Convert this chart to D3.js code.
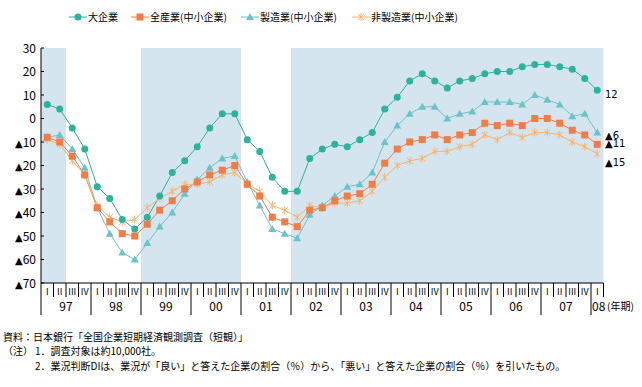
<!DOCTYPE html>
<html>
<head>
<meta charset="utf-8">
<script src="https://cdn.jsdelivr.net/npm/d3@7"></script>
<style>
  body { margin: 0; background: #fff; }
  svg text { font-family: "Noto Sans CJK JP", "Noto Sans", sans-serif; fill: #000; }
  svg tspan.tri { font-family: "DejaVu Sans", sans-serif; }
  svg text.endlab { font-family: "DejaVu Sans", sans-serif; }
</style>
</head>
<body>
<div id="wrapper"></div>
<script>
// years and quarters (97 I .. 08 I)
var years = ["97","98","99","00","01","02","03","04","05","06","07","08"];
var qNames = ["I","II","III","IV"];
var quarters = [];
years.forEach(function(y){
  qNames.forEach(function(q, i){
    if (y !== "08" || i === 0) quarters.push(y + q);
  });
});

// shaded periods: [first quarter, last quarter]
var shades = [["97I","97II"], ["99I","00IV"], ["02I","08I"]];

var yTicks = [30,20,10,0,-10,-20,-30,-40,-50,-60,-70];

var large    = [6,4,-4,-13,-29,-34,-43,-47,-42,-33,-23,-18,-12,-4,2,2,-9,-14,-25,-31,-31,-17,-13,-11,-12,-9,-6,4,9,16,19,16,13,16,17,19,20,20,22,23,23,22,21,17,12];
var smallAll = [-8,-10,-16,-24,-38,-44,-49,-50,-45,-39,-35,-30,-27,-24,-22,-20,-28,-33,-42,-44,-46,-39,-38,-35,-33,-32,-28,-19,-13,-10,-9,-7,-9,-7,-6,-2,-3,-2,-3,0,0,-2,-5,-7,-11];
var smallMfg = [-8,-7,-13,-21,-38,-49,-57,-60,-53,-46,-40,-32,-26,-21,-17,-16,-27,-37,-47,-49,-51,-41,-37,-33,-29,-28,-23,-10,-3,2,5,5,0,2,3,7,7,7,6,10,8,6,1,2,-6];
var smallNon = [-9,-11,-18,-24,-37,-42,-44,-43,-38,-34,-31,-28,-28,-27,-24,-23,-28,-31,-37,-39,-42,-37,-38,-36,-36,-35,-31,-25,-20,-18,-17,-14,-14,-12,-11,-7,-9,-6,-8,-6,-6,-7,-10,-12,-15];

var series = [
  {name:"大企業", values: large, color:"#2bb39b", shape:"circle"},
  {name:"全産業(中小企業)", values: smallAll, color:"#ef7d45", shape:"square"},
  {name:"製造業(中小企業)", values: smallMfg, color:"#6cc3c7", shape:"triangle"},
  {name:"非製造業(中小企業)", values: smallNon, color:"#f7b36c", shape:"star"}
];

var W = 642, H = 387;
var svg = d3.select('#wrapper').append('svg').attr('width', W).attr('height', H);

var x = d3.scaleBand().domain(quarters).range([41, 603.5]).padding(0);
var y = d3.scaleLinear().domain([-70, 30]).range([283, 48]);
var bw = x.bandwidth();

function fmt(v){ return v < 0 ? "▲" + (-v) : String(v); }

// negative numbers are written with a black triangle
function dispNum(sel, v){
  if (v < 0) {
    sel.append('tspan').attr('class', 'tri').style('font-size', '10px').text('▲');
    sel.append('tspan').text(-v);
  } else {
    sel.text(v);
  }
}

// shading
svg.selectAll('rect.shade').data(shades).enter().append('rect')
  .attr('x', function(d){ return x(d[0]); })
  .attr('width', function(d){ return x(d[1]) + bw - x(d[0]); })
  .attr('y', y(30)).attr('height', y(-70) - y(30))
  .style('fill', '#d5e5f0');

// y axis
svg.append('line').attr('x1', 41).attr('x2', 41).attr('y1', y(30)).attr('y2', 315)
  .style('stroke', '#000');
svg.selectAll('line.yt').data(yTicks).enter().append('line')
  .attr('x1', 41).attr('x2', 44)
  .attr('y1', function(d){ return y(d); }).attr('y2', function(d){ return y(d); })
  .style('stroke', '#000');
svg.selectAll('text.yl').data(yTicks).enter().append('text')
  .attr('x', 36).attr('y', function(d){ return y(d) + 4.5; })
  .attr('text-anchor', 'end').style('font-size', '12px')
  .each(function(d){ dispNum(d3.select(this), d); });

// x axis
svg.append('line').attr('x1', 41).attr('x2', 603.5).attr('y1', 283).attr('y2', 283)
  .style('stroke', '#000');
svg.selectAll('line.qt').data(quarters).enter().append('line')
  .attr('x1', function(d){ return x(d) + bw; }).attr('x2', function(d){ return x(d) + bw; })
  .attr('y1', 283)
  .attr('y2', function(d, i){ return (i % 4 === 3) ? 315 : 297; })
  .style('stroke', '#000');
svg.selectAll('text.ql').data(quarters).enter().append('text')
  .attr('x', function(d){ return x(d) + bw / 2; }).attr('y', 295)
  .attr('text-anchor', 'middle').style('font-size', '9px')
  .text(function(d, i){ return qNames[i % 4]; });
svg.selectAll('text.yr').data(years).enter().append('text')
  .attr('x', function(d){ return d === "08" ? x(d + "I") + 1 : x(d + "I") + bw * 2; })
  .attr('y', 311)
  .attr('text-anchor', function(d){ return d === "08" ? 'start' : 'middle'; })
  .style('font-size', '12px')
  .text(function(d){ return d; });
svg.append('text').attr('x', 607).attr('y', 310).style('font-size', '10px').text('(年期)');

// markers
function marker(sel, shape, color){
  if (shape === 'circle') {
    sel.append('circle').attr('r', 3.5).style('fill', color);
  } else if (shape === 'square') {
    sel.append('rect').attr('x', -3.5).attr('y', -3.5).attr('width', 7).attr('height', 7).style('fill', color);
  } else if (shape === 'triangle') {
    sel.append('path').attr('d', 'M0,-4L4,3L-4,3Z').style('fill', color);
  } else {
    sel.append('path').attr('d', 'M-3,-3L3,3M-3,3L3,-3M0,-4L0,4')
      .style('stroke', color).style('stroke-width', 1).style('fill', 'none');
  }
}

var line = d3.line()
  .x(function(d, i){ return x(quarters[i]) + bw / 2; })
  .y(function(d){ return y(d); });

series.forEach(function(s){
  svg.append('path').datum(s.values).attr('d', line)
    .style('fill', 'none').style('stroke', s.color).style('stroke-width', 1);
});
series.slice().reverse().forEach(function(s){
  svg.selectAll(null).data(s.values).enter().append('g')
    .attr('transform', function(d, i){ return 'translate(' + (x(quarters[i]) + bw / 2) + ',' + y(d) + ')'; })
    .each(function(){ marker(d3.select(this), s.shape, s.color); });
});

// end labels, nudged apart so they do not collide
var last = quarters.length - 1;
var endNudge = [8, 3, 6.6, 11.8];
series.forEach(function(s, k){
  var v = s.values[last];
  svg.append('text').attr('class', 'endlab')
    .attr('x', 605).attr('y', y(v) + endNudge[k])
    .style('font-size', '10px')
    .text(fmt(v));
});

// legend
var legX = [69, 131, 241, 352];
series.forEach(function(s, k){
  var g = svg.append('g').attr('transform', 'translate(' + legX[k] + ',17)');
  g.append('line').attr('x1', 0).attr('x2', 18).style('stroke', s.color);
  marker(g.append('g').attr('transform', 'translate(9,0)'), s.shape, s.color);
  g.append('text').attr('x', 19).attr('y', 4).style('font-size', '10px').text(s.name);
});

// notes
var notes = [
  [3, 341, "資料：日本銀行「全国企業短期経済観測調査（短観）」"],
  [3, 355, "（注）"],
  [35, 355, "1．調査対象は約10,000社。"],
  [35, 370, "2．業況判断DIは、業況が「良い」と答えた企業の割合（％）から、「悪い」と答えた企業の割合（％）を引いたもの。"]
];
svg.selectAll('text.note').data(notes).enter().append('text')
  .attr('x', function(d){ return d[0]; }).attr('y', function(d){ return d[1]; })
  .style('font-size', '10px')
  .text(function(d){ return d[2]; });
</script>
</body>
</html>
